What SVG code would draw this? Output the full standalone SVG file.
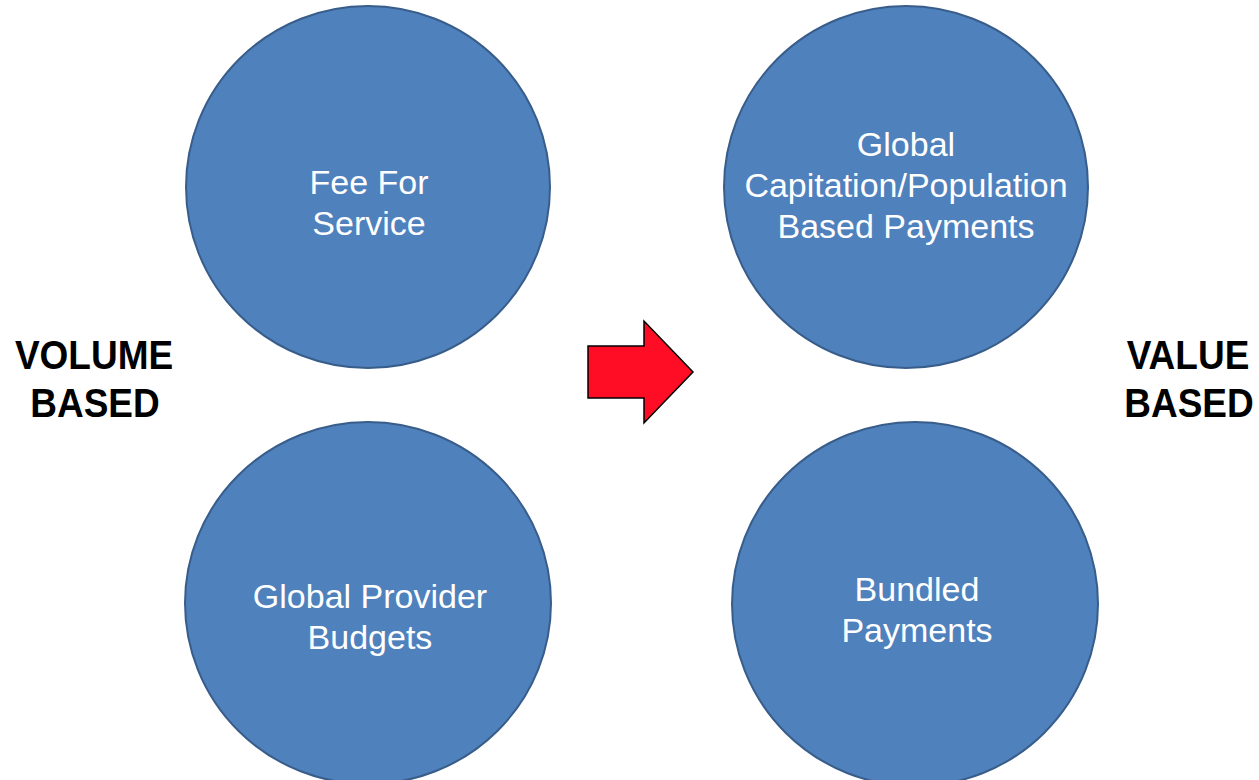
<svg xmlns="http://www.w3.org/2000/svg" width="1259" height="780" viewBox="0 0 1259 780">
<style>
.node{fill:#4F81BD;stroke:#385D8A;stroke-width:2}
.lbl{font-family:"Liberation Sans",Arial,sans-serif;font-size:34px;fill:#FFFFFF;text-anchor:middle}
.side{font-family:"Liberation Sans",Arial,sans-serif;font-size:37px;font-weight:bold;fill:#000000;text-anchor:middle}
</style>
<rect width="1259" height="780" fill="#FFFFFF"/>
<g id="volume-label">
<text class="side" transform="translate(94,369) scale(1,1.08)">VOLUME</text>
<text class="side" transform="translate(95,417) scale(1,1.08)">BASED</text>
</g>
<g id="value-label">
<text class="side" transform="translate(1188,369) scale(1,1.08)">VALUE</text>
<text class="side" transform="translate(1189,417) scale(1,1.08)">BASED</text>
</g>
<g id="fee-for-service">
<ellipse class="node" cx="368" cy="187" rx="182" ry="181"/>
<text class="lbl" x="369" y="194">Fee For</text>
<text class="lbl" x="369" y="235">Service</text>
</g>
<g id="global-provider-budgets">
<ellipse class="node" cx="368" cy="603" rx="183" ry="181"/>
<text class="lbl" x="370" y="608">Global Provider</text>
<text class="lbl" x="370" y="649">Budgets</text>
</g>
<g id="global-capitation">
<ellipse class="node" cx="906" cy="187" rx="182" ry="181"/>
<text class="lbl" x="906" y="156">Global</text>
<text class="lbl" x="906" y="197">Capitation/Population</text>
<text class="lbl" x="906" y="238">Based Payments</text>
</g>
<g id="bundled-payments">
<ellipse class="node" cx="915" cy="604" rx="183" ry="182"/>
<text class="lbl" x="917" y="601">Bundled</text>
<text class="lbl" x="917" y="642">Payments</text>
</g>
<g id="connectors">
<polygon points="588,346 644,346 644,321 693,372 644,423 644,398 588,398" fill="#FF0D24" stroke="#000000" stroke-width="1.5" stroke-linejoin="miter"/>
</g>
</svg>
